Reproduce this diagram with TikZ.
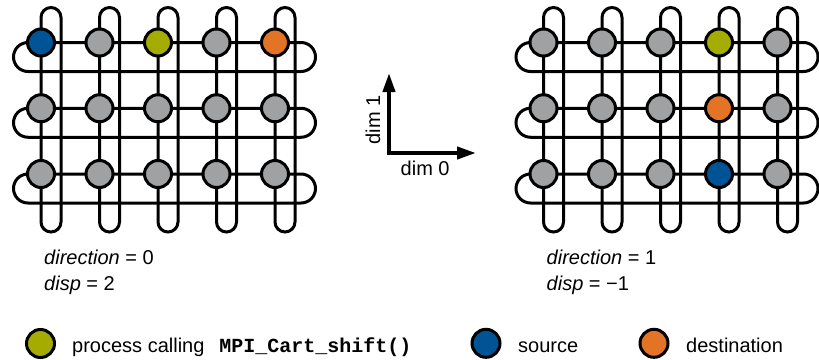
\documentclass[tikz,border=0pt]{standalone}
\usepackage{fontspec}
\setmainfont{Liberation Sans}
\setmonofont{Liberation Mono}
\usetikzlibrary{arrows.meta,backgrounds}

\definecolor{procblue}{RGB}{0,83,148}
\definecolor{procgreen}{RGB}{165,172,0}
\definecolor{procorange}{RGB}{227,115,37}
\definecolor{procgray}{RGB}{160,161,163}

% coloured processes of the two grids (all others are gray)
\expandafter\def\csname cfL-1-1\endcsname{procblue}
\expandafter\def\csname cfL-1-3\endcsname{procgreen}
\expandafter\def\csname cfL-1-5\endcsname{procorange}
\expandafter\def\csname cfR-1-4\endcsname{procgreen}
\expandafter\def\csname cfR-2-4\endcsname{procorange}
\expandafter\def\csname cfR-3-4\endcsname{procblue}

\begin{document}
\begin{tikzpicture}[x=1pt,y=-1pt,
  proc/.style={circle,draw=black,line width=3pt,minimum size=27pt,inner sep=0pt,fill=procgray},
  wire/.style={line width=3pt,draw=black},
  lbl/.style={font=\fontsize{20}{24}\selectfont,inner sep=0pt},
  axis/.style={line width=4pt,{Triangle[length=19pt,width=12pt]}-{Triangle[length=19pt,width=12pt]}}
]
\useasboundingbox (0,0) rectangle (819,359);

% two 3x5 periodic process grids
\foreach \g/\dx in {L/0,R/502.5}{
  \begin{scope}[xshift=\dx pt]
    \foreach \r in {1,2,3}
      \foreach \c in {1,...,5}{
        \ifcsname cf\g-\r-\c\endcsname
          \edef\cf{\csname cf\g-\r-\c\endcsname}%
        \else
          \def\cf{procgray}%
        \fi
        \node[proc,fill=\cf] (\g-\r-\c) at ({41+58.5*(\c-1)},{42.5+65.75*(\r-1)}) {};
      }
  \end{scope}
  \begin{scope}[on background layer]
    % wrap-around loops along dim 1 (columns)
    \foreach \c in {1,...,5}
      \draw[wire,rounded corners=10pt] (\g-3-\c.center) -- ++(0,58) -- ++(20,0)
        -- ++(0,-224.5) -- ++(-20,0) -- cycle;
    % wrap-around loops along dim 0 (rows)
    \foreach \r in {1,2,3}
      \draw[wire,rounded corners=14.5pt] (\g-\r-1.center) -- ++(-27.5,0) -- ++(0,29)
        -- ++(302,0) -- ++(0,-29) -- cycle;
  \end{scope}
}

% dimension axes
\coordinate (axisorigin) at (389,153);
\coordinate (dimonetip) at (389,73);
\coordinate (dimzerotip) at (476,153);
\draw[axis] (dimonetip) -- (axisorigin) -- (dimzerotip);
\node[lbl,rotate=90,anchor=base] (dimone) at (380,120) {dim 1};
\node[lbl,anchor=base west] (dimzero) at (400.5,175) {dim 0};

% shift parameters
\node[lbl,anchor=base west] (Ldir) at (44,264) {\textit{direction} = 0};
\node[lbl,anchor=base west] (Ldisp) at (44,290) {\textit{disp} = 2};
\node[lbl,anchor=base west] (Rdir) at (546.5,264) {\textit{direction} = 1};
\node[lbl,anchor=base west] (Rdisp) at (546.5,290) {\textit{disp} = −1};

% legend
\node[proc,fill=procgreen,minimum size=28pt] (keycall) at (40.5,343.5) {};
\node[lbl,anchor=base west] (keycalltext) at (72,352.3)
  {process calling\hspace{15pt}{\ttfamily\bfseries MPI\_Cart\_shift()}};
\node[proc,fill=procblue,minimum size=28pt] (keysrc) at (486,343.3) {};
\node[lbl,anchor=base west] (keysrctext) at (518,352.3) {source};
\node[proc,fill=procorange,minimum size=28pt] (keydst) at (654,343.3) {};
\node[lbl,anchor=base west] (keydsttext) at (686,352.3) {destination};
\end{tikzpicture}
\end{document}
